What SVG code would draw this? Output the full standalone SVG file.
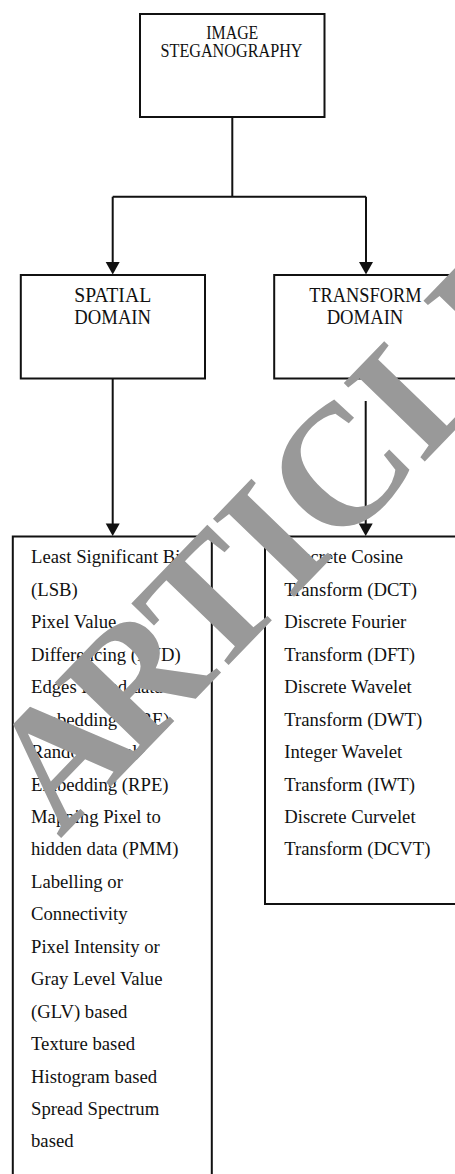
<svg xmlns="http://www.w3.org/2000/svg" width="455" height="1174" viewBox="0 0 455 1174">
<style>
.box{fill:#fff;stroke:#111;stroke-width:2}
.ln{fill:none;stroke:#111;stroke-width:2}
.ah{fill:#111;stroke:none}
.lbl{font-family:"Liberation Serif","Times New Roman",serif;fill:#111;text-anchor:middle}
.item{font-family:"Liberation Serif","Times New Roman",serif;font-size:18.7px;fill:#111}
.wm{font-family:"Liberation Serif","Times New Roman",serif;font-weight:bold;fill:#999}
</style>
<rect width="455" height="1174" fill="#fff"/>
<g id="connectors">
<path class="ln" d="M232.3,117 V196.7 M112.7,196.7 H366 M112.7,196.7 V264 M366,196.7 V264 M112.7,378.5 V526 M365.7,401 V526"/>
<polygon class="ah" points="105.7,262 119.7,262 112.7,274.5"/>
<polygon class="ah" points="359,262 373,262 366,274.5"/>
<polygon class="ah" points="105.7,523.5 119.7,523.5 112.7,536"/>
<polygon class="ah" points="358.7,523.5 372.7,523.5 365.7,536"/>
</g>
<g id="n-image">
<rect class="box" x="140" y="14" width="184.5" height="103"/>
<text class="lbl" font-size="18" x="232.3" y="39.3" textLength="52" lengthAdjust="spacingAndGlyphs">IMAGE</text>
<text class="lbl" font-size="18" x="231.5" y="57.3" textLength="142" lengthAdjust="spacingAndGlyphs">STEGANOGRAPHY</text>
</g>
<g id="n-spatial">
<rect class="box" x="20.8" y="275" width="184.2" height="103.5"/>
<text class="lbl" font-size="20.5" x="112.7" y="301.7" textLength="77" lengthAdjust="spacingAndGlyphs">SPATIAL</text>
<text class="lbl" font-size="20.5" x="112.7" y="324" textLength="76.7" lengthAdjust="spacingAndGlyphs">DOMAIN</text>
</g>
<g id="n-transform">
<rect class="box" x="274.2" y="275" width="184.2" height="103.5"/>
<text class="lbl" font-size="20.5" x="365.5" y="301.7" textLength="112.3" lengthAdjust="spacingAndGlyphs">TRANSFORM</text>
<text class="lbl" font-size="20.5" x="365" y="324" textLength="76.7" lengthAdjust="spacingAndGlyphs">DOMAIN</text>
</g>
<g id="n-spatial-list">
<rect class="box" x="12.8" y="536.5" width="199" height="660"/>
<text class="item" x="31" y="563.3">Least Significant Bit</text>
<text class="item" x="31" y="595.8">(LSB)</text>
<text class="item" x="31" y="628.2">Pixel Value</text>
<text class="item" x="31" y="660.7">Differencing (PVD)</text>
<text class="item" x="31" y="693.1">Edges Based data</text>
<text class="item" x="31" y="725.6">Embedding (EBE)</text>
<text class="item" x="31" y="758">Random Pixel</text>
<text class="item" x="31" y="790.5">Embedding (RPE)</text>
<text class="item" x="31" y="822.9">Mapping Pixel to</text>
<text class="item" x="31" y="855.4">hidden data (PMM)</text>
<text class="item" x="31" y="887.8">Labelling or</text>
<text class="item" x="31" y="920.3">Connectivity</text>
<text class="item" x="31" y="952.7">Pixel Intensity or</text>
<text class="item" x="31" y="985.2">Gray Level Value</text>
<text class="item" x="31" y="1017.6">(GLV) based</text>
<text class="item" x="31" y="1050.1">Texture based</text>
<text class="item" x="31" y="1082.5">Histogram based</text>
<text class="item" x="31" y="1115">Spread Spectrum</text>
<text class="item" x="31" y="1147.4">based</text>
</g>
<g id="n-transform-list">
<rect class="box" x="265" y="536.5" width="200" height="367.5"/>
<text class="item" x="284.3" y="563.3">Discrete Cosine</text>
<text class="item" x="284.3" y="595.8">Transform (DCT)</text>
<text class="item" x="284.3" y="628.2">Discrete Fourier</text>
<text class="item" x="284.3" y="660.7">Transform (DFT)</text>
<text class="item" x="284.3" y="693.1">Discrete Wavelet</text>
<text class="item" x="284.3" y="725.6">Transform (DWT)</text>
<text class="item" x="284.3" y="758">Integer Wavelet</text>
<text class="item" x="284.3" y="790.5">Transform (IWT)</text>
<text class="item" x="284.3" y="822.9">Discrete Curvelet</text>
<text class="item" x="284.3" y="855.4">Transform (DCVT)</text>
</g>
<g id="watermark">
<text class="wm" font-size="172" x="42" y="858" dx="26 -18 -8" transform="rotate(-46 42 858)">ARTICLE</text>
</g>
</svg>
